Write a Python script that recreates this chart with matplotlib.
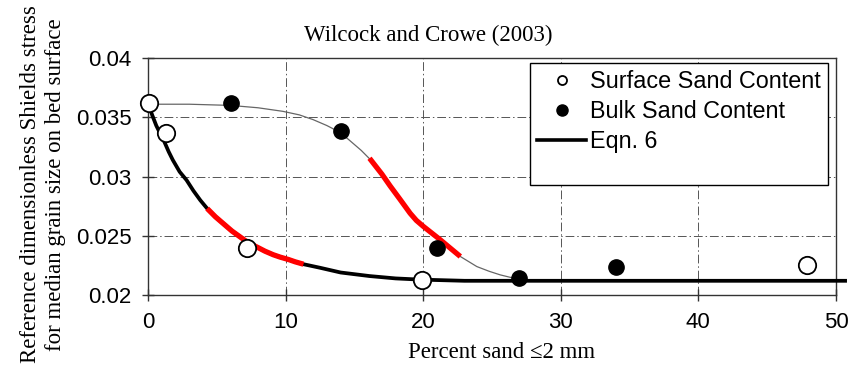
import matplotlib
matplotlib.use("Agg")
import matplotlib.pyplot as plt
from matplotlib.lines import Line2D

# ---- data ----
surface_x = [0.1, 1.3, 7.2, 19.9, 47.9]
surface_y = [0.0362, 0.0337, 0.0240, 0.0213, 0.0225]

bulk_x = [6.0, 14.0, 21.0, 27.0, 34.0]
bulk_y = [0.0362, 0.0338, 0.0240, 0.0214, 0.0224]

eqn6_x = [0.0, 0.3, 0.6, 0.9, 1.2, 1.5, 1.8, 2.3, 2.8, 3.3, 3.8, 4.3, 4.9,
          5.5, 6.1, 6.7, 7.3, 8.0, 8.5, 9.1, 9.6, 10.2, 10.7, 11.3, 12.5,
          14.0, 16.1, 18.0, 19.8, 23.0, 27.0, 35.0, 45.0, 50.8]
eqn6_y = [0.0362, 0.0352, 0.0343, 0.0336, 0.0329, 0.0321, 0.0314, 0.0304,
          0.0297, 0.0288, 0.0280, 0.0273, 0.0266, 0.0260, 0.0254, 0.0249,
          0.0244, 0.0240, 0.0237, 0.0234, 0.0232, 0.0230, 0.0228, 0.0226,
          0.0223, 0.0219, 0.0216, 0.0214, 0.0213, 0.0212, 0.0212, 0.0212,
          0.0212, 0.0212]

red1_x = [4.3, 4.9, 5.5, 6.1, 6.7, 7.3, 8.0, 8.5, 9.1, 9.6, 10.2, 10.7, 11.3]
red1_y = [0.0273, 0.0266, 0.0260, 0.0254, 0.0249, 0.0244, 0.0240, 0.0237,
          0.0234, 0.0232, 0.0230, 0.0228, 0.0226]

bulkfit_x = [0.0, 3.0, 6.0, 8.0, 9.8, 11.0, 12.0, 13.0, 14.0, 14.9, 15.5,
             16.1, 17.6, 19.05, 20.0, 21.2, 22.7, 23.9, 24.8, 25.6, 26.3, 27.0]
bulkfit_y = [0.0361, 0.0361, 0.0360, 0.0358, 0.0355, 0.0352, 0.0348, 0.0343,
             0.0337, 0.0328, 0.0322, 0.0315, 0.0292, 0.0269, 0.0258, 0.0248,
             0.02325, 0.0224, 0.0220, 0.0217, 0.0215, 0.0213]

red2_x = [16.1, 17.0, 17.6, 18.3, 19.05, 19.5, 20.0, 21.2, 22.7]
red2_y = [0.03154, 0.0302, 0.0292, 0.0281, 0.0269, 0.0263, 0.0258, 0.0247, 0.02325]

xticks = [0, 10, 20, 30, 40, 50]
yticks = [0.02, 0.025, 0.03, 0.035, 0.04]
ytick_labels = ["0.02", "0.025", "0.03", "0.035", "0.04"]

serif = ["Liberation Serif", "DejaVu Serif"]
sans = ["Liberation Sans", "DejaVu Sans"]

fig = plt.figure(figsize=(8.67, 3.69), dpi=100)
ax = fig.add_axes([0.1707, 0.2005, 0.7935, 0.6423])

ax.set_xlim(0, 50)
ax.set_ylim(0.02, 0.04)

ax.grid(True, color="#555555", linewidth=0.7, linestyle=(0, (9, 3, 1.5, 3)))
ax.set_axisbelow(True)

ax.plot(bulkfit_x, bulkfit_y, color="#666666", linewidth=0.9, zorder=2)
ax.plot(eqn6_x, eqn6_y, color="black", linewidth=2.7, zorder=3,
        solid_capstyle="butt", solid_joinstyle="round", clip_on=False)
ax.plot(red1_x, red1_y, color="#ff0000", linewidth=3.8, zorder=4,
        solid_capstyle="butt", solid_joinstyle="round")
ax.plot(red2_x, red2_y, color="#ff0000", linewidth=3.8, zorder=4,
        solid_capstyle="butt", solid_joinstyle="round")

ax.plot(surface_x, surface_y, linestyle="none", marker="o", markersize=12.5,
        markerfacecolor="white", markeredgecolor="black", markeredgewidth=1.3,
        zorder=5, clip_on=False)
ax.plot(bulk_x, bulk_y, linestyle="none", marker="o", markersize=11,
        markerfacecolor="black", markeredgecolor="black", zorder=5,
        clip_on=False)

ax.set_xticks(xticks)
ax.set_xticklabels([str(v) for v in xticks], fontfamily=sans, fontsize=16)
ax.set_yticks(yticks)
ax.set_yticklabels(ytick_labels, fontfamily=sans, fontsize=16)
ax.tick_params(axis="both", direction="inout", length=8, width=1.0,
               color="#333333", pad=8)

for s in ax.spines.values():
    s.set_color("#333333")
    s.set_linewidth(1.0)

handles = [
    Line2D([], [], linestyle="none", marker="o", markersize=6.5,
           markerfacecolor="white", markeredgecolor="black", markeredgewidth=1.3),
    Line2D([], [], linestyle="none", marker="o", markersize=8,
           markerfacecolor="black", markeredgecolor="black"),
    Line2D([], [], color="black", linewidth=2.6),
    Line2D([], [], linestyle="none"),
]
labels = ["Surface Sand Content", "Bulk Sand Content", "Eqn. 6", " "]
leg = ax.legend(handles, labels, loc="upper right",
                bbox_to_anchor=(0.988, 0.979), prop={"family": sans, "size": 16.8},
                frameon=True, fancybox=False, edgecolor="black", framealpha=1,
                handlelength=2.1, handletextpad=0.15, labelspacing=0.3,
                borderpad=0.3, borderaxespad=0.0)
leg.get_texts()[3].set_fontsize(7)
leg.get_frame().set_linewidth(1.0)
leg.set_zorder(10)

fig.text(0.494, 0.905, "Wilcock and Crowe (2003)", fontfamily=serif,
         fontsize=16.5, ha="center", va="center")
fig.text(0.471, 0.045, "Percent sand \u22642 mm", fontfamily=serif,
         fontsize=16.5, ha="left", va="center")
fig.text(0.05, 0.5, "Reference dimensionless Shields stress\nfor median grain size on bed surface",
         fontfamily=serif, fontsize=16.5, rotation=90, ha="center", va="center",
         multialignment="center", linespacing=1.25)

fig.savefig("out.png", dpi=100)
